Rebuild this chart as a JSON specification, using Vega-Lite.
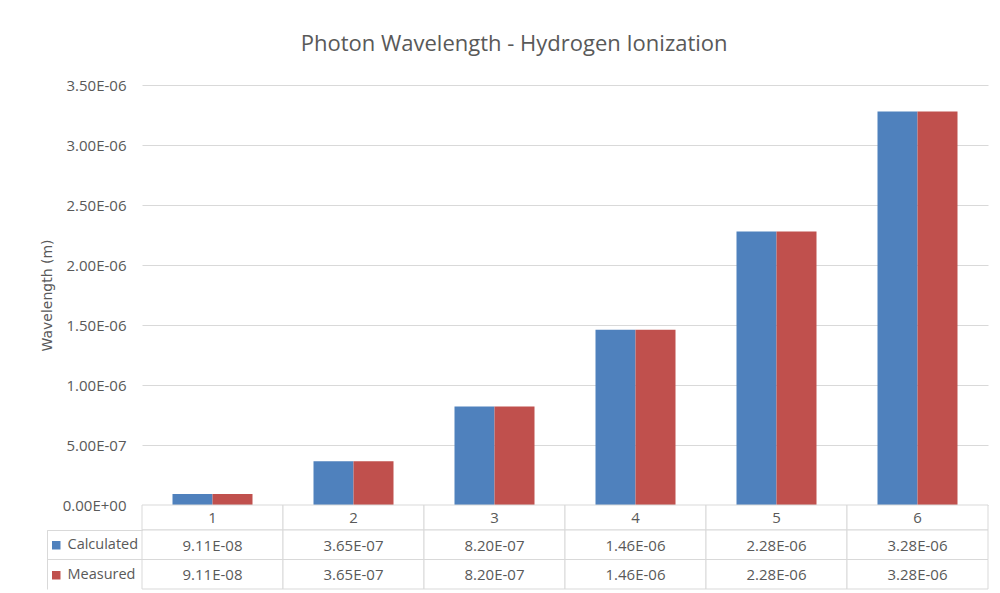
{
  "$schema": "https://vega.github.io/schema/vega-lite/v6.json",
  "background": "white",
  "autosize": {"type": "none"},
  "padding": {"left": 142, "top": 85, "right": 858, "bottom": 508},
  "datasets": {
    "wl": [
      {"n": 1, "series": "Calculated", "value": 9.11e-8},
      {"n": 1, "series": "Measured", "value": 9.11e-8},
      {"n": 2, "series": "Calculated", "value": 3.65e-7},
      {"n": 2, "series": "Measured", "value": 3.65e-7},
      {"n": 3, "series": "Calculated", "value": 8.2e-7},
      {"n": 3, "series": "Measured", "value": 8.2e-7},
      {"n": 4, "series": "Calculated", "value": 1.46e-6},
      {"n": 4, "series": "Measured", "value": 1.46e-6},
      {"n": 5, "series": "Calculated", "value": 2.28e-6},
      {"n": 5, "series": "Measured", "value": 2.28e-6},
      {"n": 6, "series": "Calculated", "value": 3.28e-6},
      {"n": 6, "series": "Measured", "value": 3.28e-6}
    ]
  },
  "data": {"name": "wl"},
  "spacing": 0,
  "bounds": "flush",
  "resolve": {"legend": {"color": "independent"}},
  "vconcat": [
    {
      "title": {"text": "Photon Wavelength - Hydrogen Ionization", "fontSize": 22, "fontWeight": "normal", "color": "#595959", "anchor": "middle", "frame": "bounds", "offset": 22},
      "width": 846,
      "height": 420,
      "mark": {"type": "bar"},
      "encoding": {
        "x": {"field": "n", "type": "ordinal", "scale": {"paddingInner": 0, "paddingOuter": 0}, "axis": null},
        "xOffset": {"field": "series", "type": "nominal", "sort": ["Calculated", "Measured"], "scale": {"paddingInner": 0, "paddingOuter": 0.7625}},
        "y": {
          "field": "value", "type": "quantitative",
          "scale": {"domain": [0, 3.5e-6], "nice": false, "zero": true},
          "axis": {
            "values": [0, 5e-7, 1e-6, 1.5e-6, 2e-6, 2.5e-6, 3e-6, 3.5e-6],
            "labelExpr": "replace(replace(format(datum.value, '.2e'), 'e-', 'E-0'), 'e+', 'E+0')",
            "title": "Wavelength (m)",
            "domain": false, "ticks": false,
            "gridColor": "#d9d9d9", "gridWidth": 1,
            "labelFontSize": 15, "labelColor": "#595959", "labelPadding": 16,
            "titleFont": "DejaVu Sans", "titleFontSize": 14, "titleFontWeight": "normal", "titleColor": "#595959", "titlePadding": 8
          }
        },
        "color": {"field": "series", "type": "nominal", "scale": {"domain": ["Calculated", "Measured"], "range": ["#4f81bd", "#c0504d"]}, "legend": null}
      }
    },
    {
      "width": 846,
      "height": 25,
      "transform": [{"filter": "datum.series == 'Calculated'"}],
      "encoding": {
        "x": {"field": "n", "type": "ordinal", "scale": {"paddingInner": 0, "paddingOuter": 0}, "axis": null}
      },
      "layer": [
        {"mark": {"type": "rect", "fill": "white", "stroke": "#d9d9d9", "strokeWidth": 1}},
        {"mark": {"type": "text", "fontSize": 15, "color": "#595959"}, "encoding": {"text": {"field": "n", "type": "nominal"}}}
      ]
    },
    {
      "width": 846,
      "height": 59,
      "transform": [{"calculate": "replace(replace(format(datum.value, '.2e'), 'e-', 'E-0'), 'e+', 'E+0')", "as": "label"}],
      "encoding": {
        "x": {"field": "n", "type": "ordinal", "scale": {"paddingInner": 0, "paddingOuter": 0}, "axis": null},
        "y": {
          "field": "series", "type": "nominal",
          "scale": {"domain": ["Calculated", "Measured"], "paddingInner": 0, "paddingOuter": 0},
          "axis": {"title": null, "labels": false, "offset": 95, "domainColor": "#d9d9d9", "ticks": true, "tickSize": -95, "tickColor": "#d9d9d9", "bandPosition": 0, "tickExtra": true, "grid": false}
        }
      },
      "layer": [
        {"mark": {"type": "rect", "fill": "white", "stroke": "#d9d9d9", "strokeWidth": 1}},
        {"mark": {"type": "text", "fontSize": 15, "color": "#595959", "dy": 1}, "encoding": {"text": {"field": "label", "type": "nominal"}}},
        {
          "mark": {"type": "square", "opacity": 0},
          "encoding": {
            "color": {
              "field": "series", "type": "nominal",
              "scale": {"domain": ["Calculated", "Measured"], "range": ["#4f81bd", "#c0504d"]},
              "legend": {"title": null, "orient": "none", "legendX": -93, "legendY": 8, "padding": 0, "symbolType": "square", "symbolSize": 72, "symbolOpacity": 1, "symbolStrokeWidth": 0, "labelFontSize": 14.5, "labelColor": "#595959", "labelOffset": 4, "rowPadding": 15}
            }
          }
        }
      ]
    }
  ],
  "config": {
    "font": "Open Sans",
    "view": {"stroke": null},
    "title": {"font": "Open Sans"},
    "axis": {"labelFont": "Open Sans"},
    "legend": {"labelFont": "Open Sans"},
    "text": {"font": "Open Sans"}
  }
}
